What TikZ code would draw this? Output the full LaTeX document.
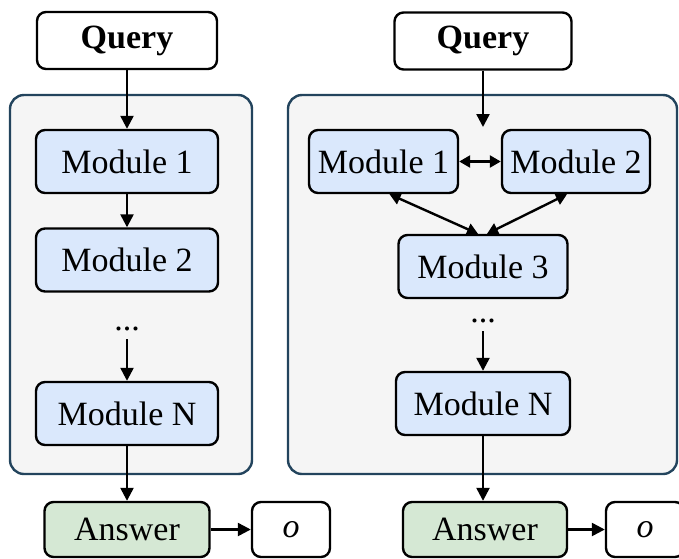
\documentclass[tikz,border=0pt]{standalone}
\usepackage{fontspec}
\setmainfont{Liberation Serif}
\usetikzlibrary{arrows.meta}

\definecolor{panelfill}{HTML}{F5F5F5}
\definecolor{panelline}{HTML}{23445D}
\definecolor{modfill}{HTML}{DAE8FC}
\definecolor{ansfill}{HTML}{D5E8D4}

\tikzset{
  box/.style={draw=black, line width=2.4pt, rounded corners=9pt, inner sep=0pt,
              font=\fontsize{34}{40}\selectfont},
  modbox/.style={box, fill=modfill, minimum height=63pt},
  ansbox/.style={box, fill=ansfill, minimum height=55pt},
  outbox/.style={box, fill=white, minimum height=55pt, minimum width=78pt},
  querybox/.style={box, fill=white, minimum height=57pt, font=\fontsize{34}{40}\selectfont\bfseries},
  panel/.style={draw=panelline, fill=panelfill, line width=2.4pt, rounded corners=14pt, inner sep=0pt},
  dotsnode/.style={inner xsep=0pt, inner ysep=8pt, font=\fontsize{34}{40}\selectfont},
  flow/.style={line width=2.4pt, -{Triangle[length=13pt,width=13pt]}},
  flowboth/.style={line width=2.4pt, {Triangle[length=11pt,width=12pt]}-{Triangle[length=11pt,width=12pt]}},
}

\begin{document}
\begin{tikzpicture}[x=1pt, y=-1pt]
  \useasboundingbox (0,0) rectangle (679,558);

  % ---- sequential pipeline ----
  \node[panel, minimum width=242pt, minimum height=379pt] (lpanel) at (131,284.5) {};
  \node[querybox, minimum width=180pt] (lq) at (127,40.5) {Query};
  \node[modbox, minimum width=182pt] (lm1) at (127,161.5) {Module 1};
  \node[modbox, minimum width=182pt] (lm2) at (127,260) {Module 2};
  \node[dotsnode] (ldots) at (127,329) {...};
  \node[modbox, minimum width=182pt] (lmn) at (127,413.5) {Module N};
  \node[ansbox, minimum width=165pt] (lans) at (127,529.5) {Answer};
  \node[outbox] (lo) at (291,529.5) {\textit{o}};

  \draw[flow] (lq) -- (lm1);
  \draw[flow] (lm1) -- (lm2);
  \draw[flow] (ldots) -- (lmn);
  \draw[flow] (lmn) -- (lans);
  \draw[flow] (lans) -- (lo);

  % ---- interacting modules ----
  \node[panel, minimum width=389pt, minimum height=379pt] (rpanel) at (482.5,284.5) {};
  \node[querybox, minimum width=177pt] (rq) at (483,41) {Query};
  \coordinate (rin) at (483,127);
  \node[modbox, minimum width=149pt] (rm1) at (383.5,161.5) {Module 1};
  \node[modbox, minimum width=148pt] (rm2) at (576,161.5) {Module 2};
  \node[modbox, minimum width=169pt] (rm3) at (483,266.5) {Module 3};
  \node[dotsnode] (rdots) at (483,321) {...};
  \node[modbox, minimum width=174pt] (rmn) at (483,403.5) {Module N};
  \node[ansbox, minimum width=164pt] (rans) at (485,529.5) {Answer};
  \node[outbox] (ro) at (645,529.5) {\textit{o}};

  \draw[flow] (rq) -- (rin);
  \draw[flowboth] (rm1) -- (rm2);
  \draw[flowboth] ([xshift=6pt]rm1.south) -- ([xshift=-5pt]rm3.north);
  \draw[flowboth] ([xshift=-9pt]rm2.south) -- ([xshift=4pt]rm3.north);
  \draw[flow] (rdots) -- (rmn);
  \draw[flow] (rmn.south) -- (rmn.south |- rans.north);
  \draw[flow] (rans) -- (ro);
\end{tikzpicture}
\end{document}
